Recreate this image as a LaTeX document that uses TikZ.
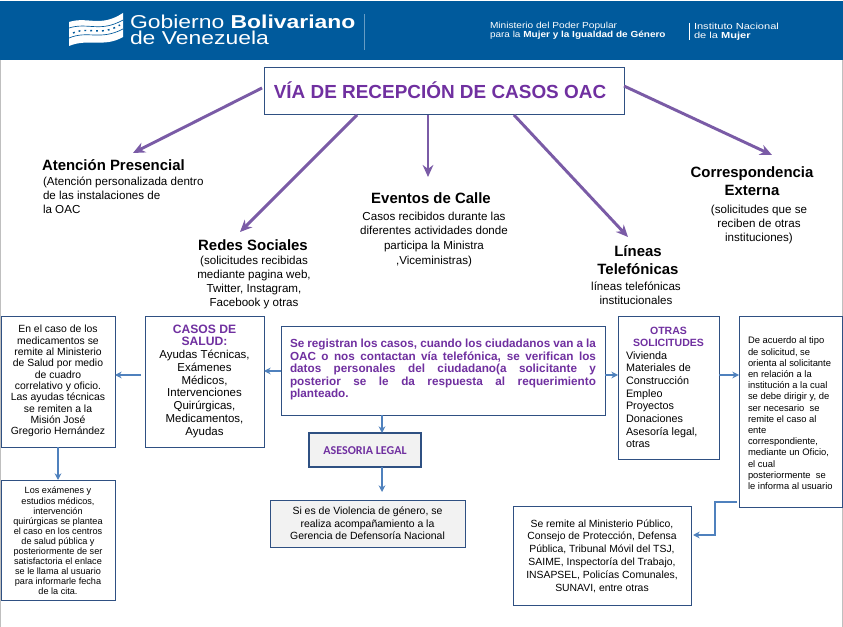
\documentclass[tikz,border=0pt]{standalone}
\usepackage{fontspec}
\setmainfont{Liberation Sans}
\newfontfamily\calibrifont{Carlito}
\usetikzlibrary{arrows.meta}
\definecolor{banner}{HTML}{005A9C}
\definecolor{boxline}{HTML}{2F5082}
\definecolor{arrowblue}{HTML}{4F81BD}
\definecolor{violetline}{HTML}{7A5BA6}
\definecolor{violettext}{HTML}{7030A0}
\definecolor{pale}{HTML}{F2F2F2}
\newcommand{\fs}[2]{\fontsize{#1}{#2}\selectfont}
\newcommand{\vb}[1]{\textcolor{violettext}{\fontsize{9.1}{9.56}\selectfont\textbf{#1}}}
\tikzset{
  x=0.75pt,y=-0.75pt,
  plain/.style={inner sep=0pt,outer sep=0pt,text=black},
  bannertext/.style={plain,text=white,anchor=base west},
  labelhead/.style={plain,font=\bfseries\fs{11.2}{14},align=center},
  labelbody/.style={plain,font=\fs{8.7}{10.6},align=center},
  boxed/.style={draw=boxline,line width=0.7pt,fill=white,inner sep=0pt,outer sep=0pt,anchor=north west},
  bigarrow/.style={draw=violetline,line width=2.2pt,-{Stealth[length=9pt,width=8pt]}},
  smallarrow/.style={draw=arrowblue,line width=0.9pt,-{Stealth[length=5pt,width=5pt]}},
  boxtext/.style={plain,align=center},
  flagfill/.style={fill=white,draw=none}
}
\begin{document}
\begin{tikzpicture}
\useasboundingbox (0,0) rectangle (843,627);
\fill[white] (0,0) rectangle (843,627);
\fill[banner] (0,1) rectangle (843,60);
\draw[black!25,line width=1pt] (0.5,60) -- (0.5,627) (842.5,60) -- (842.5,627);
% flag
\fill[flagfill] (69,22) .. controls (88,16) and (100,28) .. (123,13) -- (123,37) .. controls (104,48) and (88,38) .. (69,46) -- cycle;
\draw[banner,line width=0.5pt] (69,28) .. controls (88,22) and (100,33) .. (123,20);
\draw[banner,line width=0.5pt] (69,38) .. controls (88,30) and (100,41) .. (123,29);
\draw[banner,line width=1.1pt,dash pattern=on 1.4pt off 3pt] (73,33) .. controls (88,26) and (100,37) .. (120,25);
\node[bannertext,font=\fs{14}{15}] (gob1) at (130,29) {\scalebox{1.228}[1]{Gobierno \textbf{Bolivariano}}};
\node[bannertext,font=\fs{14}{15}] (gob2) at (130,45) {\scalebox{1.228}[1]{de Venezuela}};
\draw[white!40!banner,line width=0.5pt] (364,14) -- (364,50);
\node[bannertext,font=\fs{6.6}{7}] (min1) at (490,29) {\scalebox{1.15}[1]{Ministerio del Poder Popular}};
\node[bannertext,font=\fs{6.6}{7}] (min2) at (490,38) {\scalebox{1.136}[1]{para la \textbf{Mujer y la Igualdad de Género}}};
\draw[white,line width=0.7pt] (689,23) -- (689,40);
\node[bannertext,font=\fs{6.6}{7}] (ins1) at (694,30) {\scalebox{1.258}[1]{Instituto Nacional}};
\node[bannertext,font=\fs{6.6}{7}] (ins2) at (694,38.5) {\scalebox{1.258}[1]{de la \textbf{Mujer}}};
% title
\node[boxed,minimum width=270pt,minimum height=35.25pt] (title) at (264,67) {};
\node[plain,text=violettext,font=\bfseries\fs{14.2}{16}] (titletext) at (440,90) {VÍA DE RECEPCIÓN DE CASOS OAC};
% labels
\node[labelhead,anchor=west] (pres) at (42,165) {Atención Presencial};
\node[labelbody,align=left,anchor=north west] (presb) at (43,177) {(Atención personalizada dentro\\de las instalaciones de\\la OAC};
\node[labelhead] (redes) at (253,245) {Redes Sociales};
\node[labelbody,anchor=north] (redesb) at (254,256) {(solicitudes recibidas\\mediante pagina web,\\Twitter, Instagram,\\Facebook y otras};
\node[labelhead] (eventos) at (431,198) {Eventos de Calle};
\node[labelbody,font=\fs{8.7}{10.9},anchor=north] (eventosb) at (434,212) {Casos recibidos durante las\\diferentes actividades donde\\participa la Ministra\\,Viceministras)};
\node[labelhead] (lineas) at (638,260) {Líneas\\Telefónicas};
\node[labelbody,anchor=north] (lineasb) at (636,282) {líneas telefónicas\\institucionales};
\node[labelhead] (corr) at (752,181) {Correspondencia\\Externa};
\node[labelbody,anchor=north] (corrb) at (759,205) {(solicitudes que se\\reciben de otras\\instituciones)};
% purple arrows
\coordinate (a1) at (133,153);
\coordinate (a2) at (240,232);
\coordinate (a3) at (428,177);
\coordinate (a4) at (628,237);
\coordinate (a5) at (772,155);
\coordinate (t1) at (262,88);
\coordinate (t2) at (357,115);
\coordinate (t3) at (428,115);
\coordinate (t4) at (514,115);
\coordinate (t5) at (624,86);
\draw[bigarrow] (t1) -- (a1);
\draw[bigarrow] (t2) -- (a2);
\draw[bigarrow] (t3) -- (a3);
\draw[bigarrow] (t4) -- (a4);
\draw[bigarrow] (t5) -- (a5);
% boxes
\node[boxed,minimum width=85.5pt,minimum height=98.25pt] (med) at (1,316) {};
\node[boxtext,font=\fs{7.8}{8.5}] (medt) at (58,381) {En el caso de los\\medicamentos se\\remite al Ministerio\\de Salud por medio\\de cuadro\\correlativo y oficio.\\Las ayudas técnicas\\se remiten a la\\Misión José\\Gregorio Hernández};
\node[boxed,minimum width=89.25pt,minimum height=98.25pt] (salud) at (145,316) {};
\node[boxtext,font=\fs{8.6}{9.56}] (saludt) at (204.5,381) {\vb{CASOS DE}\\\vb{SALUD:}\\Ayudas Técnicas,\\Exámenes\\Médicos,\\Intervenciones\\Quirúrgicas,\\Medicamentos,\\Ayudas};
\node[boxed,minimum width=243pt,minimum height=66.75pt] (center) at (281,326) {};
\node[plain,text=violettext,font=\bfseries\fs{8.8}{9.4},anchor=north west] (centert) at (290,339) {\parbox{229.5pt}{\hbadness=10000 Se registran los casos, cuando los ciudadanos van a la\linebreak OAC o nos contactan vía telefónica, se verifican los\linebreak datos personales del ciudadano(a solicitante y\linebreak posterior se le da respuesta al requerimiento\linebreak planteado.}};
\node[boxed,draw=boxline,line width=1.6pt,fill=pale,minimum width=84pt,minimum height=25.5pt] (ases) at (309,433) {};
\node[plain,text=violettext,font=\calibrifont\bfseries\fs{9}{10}] (asest) at (365,451) {ASESORIA LEGAL};
\node[boxed,fill=pale,minimum width=146.25pt,minimum height=35.25pt] (viol) at (270,500) {};
\node[boxtext,font=\fs{7.85}{9.5}] (violt) at (367.5,523.5) {Si es de Violencia de género, se\\realiza acompañamiento a la\\Gerencia de Defensoría Nacional};
\node[boxed,minimum width=85.5pt,minimum height=90pt] (exam) at (1,480) {};
\node[boxtext,font=\fs{6.85}{7.55}] (examt) at (58,541) {Los exámenes y\\estudios médicos,\\intervención\\quirúrgicas se plantea\\el caso en los centros\\de salud pública y\\posteriormente de ser\\satisfactoria el enlace\\se le llama al usuario\\para informarle fecha\\de la cita.};
\node[boxed,minimum width=75.75pt,minimum height=107.25pt] (otras) at (618,316) {};
\node[plain,text=violettext,font=\bfseries\fs{7.9}{8.5},align=center] (otrast) at (668.5,337) {OTRAS\\SOLICITUDES};
\node[plain,font=\fs{8.1}{9.46},align=left,anchor=north west] (otrasb) at (626,351.5) {Vivienda\\Materiales de\\Construcción\\Empleo\\Proyectos\\Donaciones\\Asesoría legal,\\otras};
\node[boxed,minimum width=77.25pt,minimum height=143.25pt] (acuerdo) at (739,316) {};
\node[plain,font=\fs{7.05}{8.4},align=left,anchor=north west] (acuerdot) at (748,337) {De acuerdo al tipo\\de solicitud, se\\orienta al solicitante\\en relación a la\\institución a la cual\\se debe dirigir y, de\\ser necesario\ \ se\\remite el caso al\\ente\\correspondiente,\\mediante un Oficio,\\el cual\\posteriormente\ \ se\\le informa al usuario};
\node[boxed,minimum width=133.5pt,minimum height=74.25pt] (remite) at (513,506) {};
\node[boxtext,font=\fs{7.8}{9.6}] (remitet) at (602,556) {Se remite al Ministerio Público,\\Consejo de Protección, Defensa\\Pública, Tribunal Móvil del TSJ,\\SAIME, Inspectoría del Trabajo,\\INSAPSEL, Policías Comunales,\\SUNAVI, entre otras};
% small arrows
\coordinate (s1) at (141,375);
\coordinate (e1) at (737,502);
\coordinate (e2) at (715,502);
\coordinate (e3) at (715,535);
\coordinate (e4) at (693,535);
\coordinate (r1) at (0,371);
\coordinate (r2) at (0,375);
\coordinate (c1) at (58,0);
\coordinate (c2) at (382,0);
\coordinate (gap) at (382,492);
\draw[smallarrow] (center.west |- r1) -- (salud.east |- r1);
\draw[smallarrow] (s1) -- (med.east |- s1);
\draw[smallarrow] (c1 |- med.south) -- (c1 |- exam.north);
\draw[smallarrow] (c2 |- center.south) -- (c2 |- ases.north);
\draw[smallarrow] (c2 |- ases.south) -- (gap);
\draw[smallarrow] (center.east |- r2) -- (otras.west |- r2);
\draw[smallarrow] (otras.east |- r2) -- (acuerdo.west |- r2);
\draw[smallarrow] (e1) -- (e2) -- (e3) -- (e4);
\end{tikzpicture}
\end{document}
